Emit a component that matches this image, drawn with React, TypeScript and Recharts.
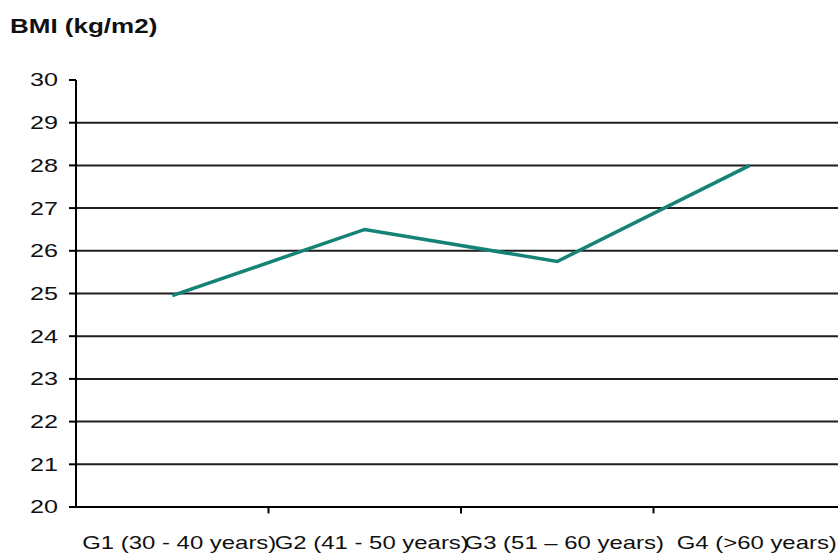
import React from "react";
import { LineChart, Line, XAxis, YAxis, CartesianGrid, ReferenceLine } from "recharts";

const categories = ["G1 (30 - 40 years)", "G2 (41 - 50 years)", "G3 (51 – 60 years)", "G4 (>60 years)"];
const bmiValues = [24.95, 26.5, 25.75, 28.0];
const yTicks = [20, 21, 22, 23, 24, 25, 26, 27, 28, 29, 30];
const gridValues = [21, 22, 23, 24, 25, 26, 27, 28, 29];
const categoryCenters = [0.5, 1.5, 2.5, 3.5];
const categoryBoundaries = [1, 2, 3];

const data = categories.map((c, i) => ({ x: categoryCenters[i], label: c, bmi: bmiValues[i] }));

const FONT = "'Liberation Sans', Arial, sans-serif";

const YTick = (props: any) => {
  const { x, y, payload } = props;
  return (
    <g transform={`translate(${x},${y})`}>
      <text textAnchor="end" dy="0.36em" transform="scale(1.4,1)" fontFamily={FONT} fontSize={18} fill="#111">
        {payload.value}
      </text>
    </g>
  );
};

const XTick = (props: any) => {
  const { x, y, payload } = props;
  const idx = categoryCenters.indexOf(payload.value);
  return (
    <g transform={`translate(${x + 7},${y})`}>
      <text textAnchor="middle" dy={0} transform="scale(1.33,1)" fontFamily={FONT} fontSize={18} fill="#111">
        {categories[idx]}
      </text>
    </g>
  );
};

export default function App() {
  return (
    <div style={{ position: "absolute", left: 0, top: 0, width: 838, height: 554, overflow: "hidden", background: "#fff" }}>
      <svg width={838} height={60} style={{ position: "absolute", left: 0, top: 0 }}>
        <text x={10} y={33} transform="scale(1.3,1) translate(-2.3,0)" fontFamily={FONT} fontWeight="bold" fontSize={20} fill="#111">
          BMI (kg/m2)
        </text>
      </svg>
      <div style={{ position: "absolute", left: 0, top: 0 }}>
        <LineChart width={848} height={554} data={data} margin={{ top: 80, right: 2, bottom: 0, left: 0 }}>
          <CartesianGrid vertical={false} horizontalValues={gridValues} stroke="#1e1e1e" strokeWidth={2} />
          <XAxis
            dataKey="x"
            type="number"
            domain={[0, 4]}
            ticks={categoryCenters}
            tickLine={false}
            axisLine={{ stroke: "#000", strokeWidth: 2 }}
            height={47}
            tickMargin={36}
            tick={<XTick />}
            interval={0}
          />
          <YAxis
            type="number"
            domain={[20, 30]}
            ticks={yTicks}
            width={76}
            tickSize={7}
            tickMargin={11}
            tickLine={{ stroke: "#000", strokeWidth: 2 }}
            axisLine={{ stroke: "#000", strokeWidth: 2 }}
            tick={<YTick />}
            interval={0}
          />
          {categoryBoundaries.map((b) => (
            <ReferenceLine
              key={b}
              segment={[{ x: b, y: 20 }, { x: b, y: 19.85 }]}
              stroke="#000"
              strokeWidth={2}
              ifOverflow="visible"
            />
          ))}
          <Line
            type="linear"
            dataKey="bmi"
            stroke="#148274"
            strokeWidth={3.5}
            dot={false}
            isAnimationActive={false}
          />
        </LineChart>
      </div>
    </div>
  );
}
